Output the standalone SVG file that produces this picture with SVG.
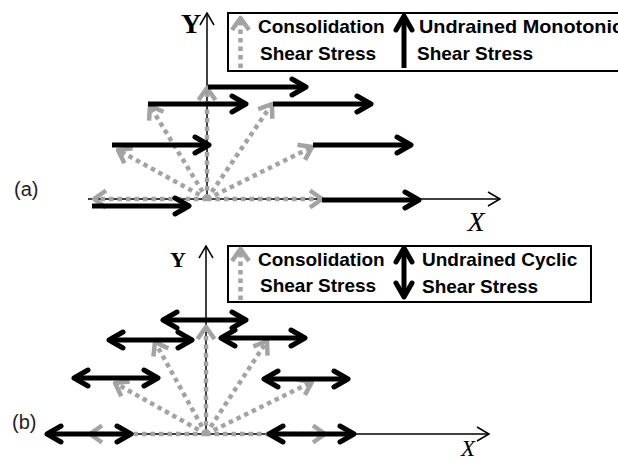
<svg xmlns="http://www.w3.org/2000/svg" width="618" height="462" viewBox="0 0 618 462">
<style>
.ax{stroke:#000;stroke-width:1.5;fill:none;marker-end:url(#ah)}
.c{stroke:#a3a3a3;stroke-width:4.5;stroke-dasharray:4.5 4;fill:none;marker-end:url(#gh)}
.m{stroke:#000;stroke-width:5;fill:none;marker-end:url(#bh)}
.d{stroke:#000;stroke-width:5;fill:none;marker-end:url(#bh);marker-start:url(#bh)}
.box{fill:#fff;stroke:#000;stroke-width:2}
.lt{font-family:"Liberation Sans",Arial,sans-serif;font-weight:bold;font-size:19px;fill:#000}
.pl{font-family:"Liberation Sans",Arial,sans-serif;font-size:20px;fill:#1e1e28}
.axl{font-family:"Liberation Serif","Times New Roman",serif;fill:#000}
</style>
<defs>
<marker id="bh" markerUnits="userSpaceOnUse" orient="auto-start-reverse" markerWidth="40" markerHeight="40" refX="0" refY="0" style="overflow:visible">
<path d="M-14,-8 L0,0 L-14,8" fill="none" stroke="#000" stroke-width="5" stroke-linejoin="round" stroke-linecap="round" stroke-dasharray="none"/>
</marker>
<marker id="gh" markerUnits="userSpaceOnUse" orient="auto" markerWidth="40" markerHeight="40" refX="0" refY="0" style="overflow:visible">
<path d="M-12,-8.5 L0,0 L-12,8.5" fill="none" stroke="#a3a3a3" stroke-width="4.5" stroke-linejoin="round" stroke-dasharray="none"/>
</marker>
<marker id="ah" markerUnits="userSpaceOnUse" orient="auto" markerWidth="40" markerHeight="40" refX="0" refY="0" style="overflow:visible">
<path d="M-12,-7 L0,0 L-12,7" fill="none" stroke="#000" stroke-width="1.5" stroke-dasharray="none"/>
</marker>
</defs>

<!-- Panel (a) -->
<g id="panel-a">
<g id="a-axes">
<line class="ax" x1="88" y1="199" x2="500" y2="199"/>
<line class="ax" x1="207" y1="199" x2="207" y2="13"/>
<text class="axl" x="191" y="33" font-size="28" font-weight="bold" text-anchor="middle">Y</text>
<text class="axl" x="476" y="231" font-size="28" font-style="italic" text-anchor="middle">X</text>
<text class="pl" x="14" y="196">(a)</text>
</g>
<g id="a-legend">
<rect class="box" x="228" y="13" width="400" height="58"/>
<line class="c" x1="240.5" y1="68" x2="240.5" y2="18"/>
<text class="lt" x="258" y="33">Consolidation</text>
<text class="lt" x="260" y="60">Shear Stress</text>
<line class="m" x1="404" y1="68" x2="404" y2="16"/>
<text class="lt" x="419" y="33" textLength="204" lengthAdjust="spacingAndGlyphs">Undrained Monotonic</text>
<text class="lt" x="417" y="60">Shear Stress</text>
</g>
<g id="a-consolidation">
<line class="c" x1="207" y1="199" x2="94" y2="199"/>
<line class="c" x1="207" y1="199" x2="118" y2="150"/>
<line class="c" x1="207" y1="199" x2="150" y2="106"/>
<line class="c" x1="207" y1="199" x2="207" y2="88"/>
<line class="c" x1="207" y1="199" x2="272" y2="104"/>
<line class="c" x1="207" y1="199" x2="312" y2="147"/>
<line class="c" x1="207" y1="199" x2="322" y2="199"/>
</g>
<g id="a-monotonic">
<line class="m" x1="208" y1="87" x2="306" y2="87"/>
<line class="m" x1="148" y1="104" x2="246" y2="104"/>
<line class="m" x1="273" y1="104" x2="371" y2="104"/>
<line class="m" x1="112" y1="145" x2="209" y2="145"/>
<line class="m" x1="313" y1="145" x2="411" y2="145"/>
<line class="m" x1="92" y1="206" x2="189" y2="206"/>
<line class="m" x1="322" y1="200" x2="419" y2="200"/>
</g>
</g>

<!-- Panel (b) -->
<g id="panel-b">
<g id="b-axes">
<line class="ax" x1="130" y1="434" x2="489" y2="434"/>
<line class="ax" x1="206" y1="434" x2="206" y2="246"/>
<text class="axl" x="178" y="267" font-size="22" font-weight="bold" text-anchor="middle">Y</text>
<text class="axl" x="468" y="456" font-size="23" font-style="italic" text-anchor="middle">X</text>
<text class="pl" x="12" y="429">(b)</text>
</g>
<g id="b-legend">
<rect class="box" x="228" y="246" width="363" height="56"/>
<line class="c" x1="240.5" y1="300" x2="240.5" y2="249"/>
<text class="lt" x="258" y="266">Consolidation</text>
<text class="lt" x="260" y="292">Shear Stress</text>
<line class="d" x1="404" y1="248" x2="404" y2="297"/>
<text class="lt" x="422" y="266">Undrained Cyclic</text>
<text class="lt" x="422" y="293">Shear Stress</text>
</g>
<g id="b-consolidation">
<line class="c" x1="206" y1="434" x2="90" y2="434"/>
<line class="c" x1="206" y1="434" x2="115" y2="383"/>
<line class="c" x1="206" y1="434" x2="155" y2="342"/>
<line class="c" x1="206" y1="434" x2="206" y2="327"/>
<line class="c" x1="206" y1="434" x2="267" y2="341"/>
<line class="c" x1="206" y1="434" x2="312" y2="382"/>
<line class="c" x1="206" y1="434" x2="325" y2="434"/>
</g>
<g id="b-cyclic">
<line class="d" x1="163" y1="320" x2="246" y2="320"/>
<line class="d" x1="109" y1="340" x2="192" y2="340"/>
<line class="d" x1="221" y1="338" x2="305" y2="338"/>
<line class="d" x1="74" y1="378" x2="158" y2="378"/>
<line class="d" x1="264" y1="379" x2="348" y2="379"/>
<line class="d" x1="47" y1="434" x2="131" y2="434"/>
<line class="d" x1="269" y1="434" x2="354" y2="434"/>
</g>
</g>
</svg>
